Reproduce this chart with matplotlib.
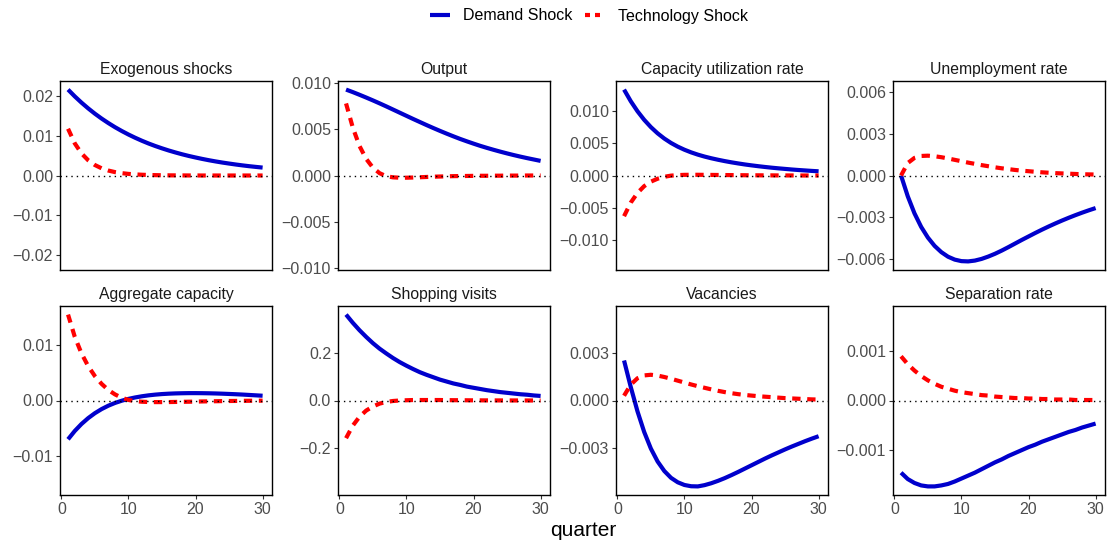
import numpy as np
import matplotlib
matplotlib.use('Agg')
import matplotlib.pyplot as plt
from matplotlib.lines import Line2D

plt.rcParams['font.family'] = ['Liberation Sans', 'DejaVu Sans']

quarters = np.arange(1, 31)

titles = ['Exogenous shocks', 'Output', 'Capacity utilization rate', 'Unemployment rate',
          'Aggregate capacity', 'Shopping visits', 'Vacancies', 'Separation rate']

# impulse responses (quarters 1..30)
exo_demand = [0.02150, 0.01980, 0.01824, 0.01680, 0.01547, 0.01425, 0.01313, 0.01209, 0.01114, 0.01026,
              0.00945, 0.00870, 0.00801, 0.00738, 0.00680, 0.00626, 0.00577, 0.00531, 0.00489, 0.00451,
              0.00415, 0.00382, 0.00352, 0.00324, 0.00299, 0.00275, 0.00253, 0.00233, 0.00215, 0.00198]
exo_tech = [0.01170, 0.00805, 0.00554, 0.00381, 0.00262, 0.00180, 0.00124, 0.00085, 0.00059, 0.00040,
            0.00028, 0.00019, 0.00013, 0.00009, 0.00006, 0.00004, 0.00003, 0.00002, 0.00001, 0.00001,
            0.0, 0.0, 0.0, 0.0, 0.0, 0.0, 0.0, 0.0, 0.0, 0.0]

out_demand = [0.00930, 0.00903, 0.00874, 0.00844, 0.00813, 0.00781, 0.00748, 0.00714, 0.00680, 0.00646,
              0.00612, 0.00579, 0.00546, 0.00514, 0.00483, 0.00453, 0.00424, 0.00396, 0.00370, 0.00345,
              0.00321, 0.00299, 0.00278, 0.00258, 0.00239, 0.00221, 0.00204, 0.00188, 0.00173, 0.00158]
out_tech = [0.00780, 0.00520, 0.00320, 0.00180, 0.00085, 0.00025, -0.00008, -0.00020, -0.00024, -0.00024,
            -0.00022, -0.00019, -0.00016, -0.00013, -0.00011, -0.00009, -0.00007, -0.00006, -0.00005, -0.00004,
            -0.00003, -0.00003, -0.00002, -0.00002, -0.00001, -0.00001, -0.00001, 0.0, 0.0, 0.0]

cu_demand = [0.01330, 0.01150, 0.00995, 0.00862, 0.00749, 0.00653, 0.00572, 0.00504, 0.00447, 0.00399,
             0.00358, 0.00323, 0.00293, 0.00267, 0.00244, 0.00223, 0.00204, 0.00187, 0.00171, 0.00157,
             0.00144, 0.00132, 0.00121, 0.00111, 0.00102, 0.00093, 0.00085, 0.00078, 0.00071, 0.00065]
cu_tech = [-0.00630, -0.00420, -0.00270, -0.00165, -0.00095, -0.00050, -0.00020, -0.00002, 0.00006, 0.00010,
           0.00011, 0.00011, 0.00010, 0.00009, 0.00008, 0.00007, 0.00006, 0.00005, 0.00004, 0.00003,
           0.00003, 0.00002, 0.00002, 0.00001, 0.00001, 0.00001, 0.0, 0.0, 0.0, 0.0]

unemp_demand = [0.0, -0.00150, -0.00273, -0.00371, -0.00448, -0.00508, -0.00553, -0.00586, -0.00607, -0.00618,
                -0.00620, -0.00614, -0.00602, -0.00585, -0.00565, -0.00542, -0.00517, -0.00491, -0.00465, -0.00440,
                -0.00415, -0.00391, -0.00368, -0.00346, -0.00325, -0.00305, -0.00286, -0.00268, -0.00251, -0.00235]
unemp_tech = [0.0, 0.00090, 0.00127, 0.00141, 0.00143, 0.00139, 0.00132, 0.00123, 0.00113, 0.00103,
              0.00093, 0.00084, 0.00075, 0.00067, 0.00059, 0.00052, 0.00046, 0.00040, 0.00035, 0.00031,
              0.00027, 0.00023, 0.00020, 0.00017, 0.00015, 0.00013, 0.00011, 0.00009, 0.00008, 0.00007]

cap_demand = [-0.00700, -0.00550, -0.00424, -0.00318, -0.00229, -0.00155, -0.00094, -0.00044, -0.00004, 0.00029,
              0.00055, 0.00076, 0.00093, 0.00106, 0.00116, 0.00123, 0.00128, 0.00131, 0.00133, 0.00133,
              0.00132, 0.00130, 0.00127, 0.00123, 0.00118, 0.00113, 0.00107, 0.00100, 0.00093, 0.00086]
cap_tech = [0.01550, 0.01150, 0.00850, 0.00620, 0.00440, 0.00300, 0.00190, 0.00110, 0.00050, 0.00010,
            -0.00012, -0.00022, -0.00027, -0.00029, -0.00029, -0.00028, -0.00026, -0.00024, -0.00022, -0.00020,
            -0.00017, -0.00015, -0.00013, -0.00011, -0.00009, -0.00008, -0.00006, -0.00005, -0.00004, -0.00003]

shop_demand = [0.358, 0.324, 0.293, 0.265, 0.239, 0.216, 0.196, 0.177, 0.160, 0.145,
               0.131, 0.118, 0.107, 0.097, 0.087, 0.079, 0.071, 0.065, 0.058, 0.053,
               0.048, 0.043, 0.039, 0.035, 0.032, 0.029, 0.026, 0.024, 0.021, 0.019]
shop_tech = [-0.157, -0.105, -0.068, -0.042, -0.025, -0.013, -0.006, -0.002, 0.000, 0.001,
             0.002, 0.002, 0.002, 0.002, 0.002, 0.0015, 0.0013, 0.0011, 0.0009, 0.0007,
             0.0006, 0.0005, 0.0004, 0.0003, 0.0002, 0.0002, 0.0001, 0.0001, 0.0, 0.0]

vac_demand = [0.00252, 0.00085, -0.00068, -0.00198, -0.00303, -0.00384, -0.00444, -0.00487, -0.00515, -0.00532,
              -0.00540, -0.00541, -0.00533, -0.00521, -0.00506, -0.00489, -0.00470, -0.00450, -0.00429, -0.00408,
              -0.00387, -0.00366, -0.00346, -0.00327, -0.00308, -0.00290, -0.00273, -0.00256, -0.00240, -0.00225]
vac_tech = [0.00030, 0.00100, 0.00140, 0.00158, 0.00162, 0.00157, 0.00148, 0.00137, 0.00125, 0.00113,
            0.00101, 0.00090, 0.00080, 0.00070, 0.00061, 0.00053, 0.00046, 0.00040, 0.00035, 0.00031,
            0.00027, 0.00024, 0.00021, 0.00018, 0.00015, 0.00013, 0.00011, 0.00009, 0.00007, 0.00006]

sep_demand = [-0.00147, -0.00160, -0.00168, -0.00173, -0.00175, -0.00175, -0.00173, -0.00170, -0.00165, -0.00159,
              -0.00153, -0.00147, -0.00140, -0.00133, -0.00126, -0.00120, -0.00113, -0.00107, -0.00101, -0.00095,
              -0.00090, -0.00084, -0.00079, -0.00074, -0.00069, -0.00064, -0.00060, -0.00055, -0.00051, -0.00047]
sep_tech = [0.00090, 0.00074, 0.00061, 0.00050, 0.00041, 0.00034, 0.00028, 0.00024, 0.00020, 0.00017,
            0.00015, 0.00013, 0.00011, 0.00010, 0.00008, 0.00007, 0.00006, 0.00005, 0.00005, 0.00004,
            0.00004, 0.00003, 0.00003, 0.00002, 0.00002, 0.00002, 0.00001, 0.00001, 0.00001, 0.00001]

demand = [exo_demand, out_demand, cu_demand, unemp_demand, cap_demand, shop_demand, vac_demand, sep_demand]
tech = [exo_tech, out_tech, cu_tech, unemp_tech, cap_tech, shop_tech, vac_tech, sep_tech]

y_ticks = [[-0.02, -0.01, 0, 0.01, 0.02],
           [-0.010, -0.005, 0, 0.005, 0.010],
           [-0.010, -0.005, 0, 0.005, 0.010],
           [-0.006, -0.003, 0, 0.003, 0.006],
           [-0.01, 0, 0.01],
           [-0.2, 0, 0.2],
           [-0.003, 0, 0.003],
           [-0.001, 0, 0.001]]
decimals = [2, 3, 3, 3, 2, 1, 3, 3]

W, H = 1110, 542
fig = plt.figure(figsize=(W / 100, H / 100), dpi=100)

lefts = [60, 338, 616, 893]
tops = [81, 306]
pw, ph = 212, 189

blue = '#0000CC'
red = '#FF0000'
lw = 3.0

for i in range(8):
    r, c = divmod(i, 4)
    ax = fig.add_axes([lefts[c] / W, 1 - (tops[r] + ph) / H, pw / W, ph / H])
    ax.plot(quarters, demand[i], color=blue, lw=lw, solid_capstyle='butt', zorder=3)
    ax.plot(quarters, tech[i], color=red, lw=lw, dashes=(2.0, 1.6), zorder=3)
    ax.axhline(0, color='black', lw=1.0, linestyle=(0, (1, 2.9)), zorder=4)

    # symmetric y range around zero, ggplot-like 5% padding
    m = max(np.max(np.abs(demand[i])), np.max(np.abs(tech[i])))
    ax.set_ylim(-1.1 * m, 1.1 * m)
    ax.set_xlim(-0.2, 31.4)
    ax.set_yticks(y_ticks[i])
    ax.set_yticklabels([f'{t:.{decimals[i]}f}'.replace('-', '\u2212') for t in y_ticks[i]])
    ax.set_xticks([0, 10, 20, 30])
    if r == 0:
        ax.tick_params(axis='x', bottom=False, labelbottom=False)
    ax.tick_params(axis='both', colors='#333333', labelcolor='#4D4D4D', labelsize=11.5,
                   length=3, width=0.8, pad=2)
    for s in ax.spines.values():
        s.set_color('black')
        s.set_linewidth(1.0)
    ax.set_title(titles[i], fontsize=11.3, color='#1A1A1A', pad=5)

fig.text(583 / W, 1 - 531 / H, 'quarter', ha='center', va='center', fontsize=15, color='black')

handles = [Line2D([], [], color=blue, lw=lw, solid_capstyle='butt'),
           Line2D([], [], color=red, lw=lw, dashes=(1.2, 1.2))]
fig.legend(handles, ['Demand Shock', 'Technology Shock'], loc='center', bbox_to_anchor=(589 / W, 1 - 16 / H),
           ncol=2, frameon=False, fontsize=11.5, handlelength=1.25, columnspacing=0.8, handletextpad=0.8)

fig.savefig('out.png', dpi=100)
